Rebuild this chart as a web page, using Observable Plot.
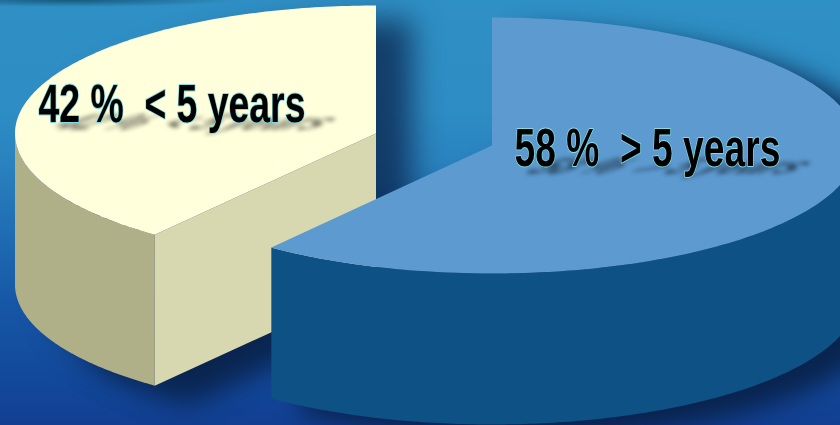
<!DOCTYPE html>
<html>
<head>
<meta charset="utf-8">
<script src="https://cdn.jsdelivr.net/npm/d3@7"></script>
<script src="https://cdn.jsdelivr.net/npm/@observablehq/plot@0.6"></script>
<style>
html,body{margin:0;padding:0;overflow:hidden;background:#1f6ab0}
#chart{width:840px;height:425px;overflow:hidden;
 background:
  radial-gradient(ellipse 170px 7px at 70px 0px, rgba(15,70,100,.75), rgba(15,70,100,0)),
  linear-gradient(180deg,#2f90c5 0px,#2e8dc4 110px,#2a83bf 160px,#1f6cb2 235px,#1758a6 300px,#134a9c 370px,#123f92 425px);}
svg{display:block}
</style>
</head>
<body>
<div id="chart"></div>
<script>
// values printed on the chart
const groups = ["< 5 years", "> 5 years"];
const shares = [42, 58];
// slice sizes as actually drawn in the picture (percent of the circle)
const drawnShares = [39.5, 60.3];

// layout of the exploded 3D pie
const depth = 151;
const centers = [{cx: 375.5, cy: 133}, {cx: 491.5, cy: 145}];
const radii = [{rx: 361, ry: 128}, {rx: 366, ry: 128}];

const rim = (i, deg, dy = 0) => {
  const a = deg * Math.PI / 180;
  return {x: centers[i].cx + radii[i].rx * Math.sin(a), y: centers[i].cy - radii[i].ry * Math.cos(a) + dy};
};
const arc = (i, from, to, dy = 0, n = 160) => d3.range(n + 1).map(k => rim(i, from + (to - from) * k / n, dy));
const centre = (i, dy = 0) => ({x: centers[i].cx, y: centers[i].cy + dy});

const yellowAngle = 360 - drawnShares[0] * 3.6;
const blueAngle = drawnShares[1] * 3.6;

const yellowTop = [centre(0), ...arc(0, yellowAngle, 360)];
const yellowCurve = [...arc(0, 270, yellowAngle), ...arc(0, yellowAngle, 270, depth)];
const yellowFlat = [rim(0, yellowAngle), centre(0), centre(0, depth), rim(0, yellowAngle, depth)];
const blueTop = [centre(1), ...arc(1, 0, blueAngle)];
const blueCurve = [...arc(1, 90, blueAngle), ...arc(1, blueAngle, 90, depth)];

const shift = (pts, dx, dy) => pts.map(p => ({x: p.x + dx, y: p.y + dy}));
const yellowShadow = shift([centre(0), ...arc(0, yellowAngle, 360), centre(0, depth), rim(0, yellowAngle, depth), ...arc(0, yellowAngle, 270, depth), ...arc(0, 270, yellowAngle)], 36, 14);
const floorShadow = shift([rim(0, yellowAngle, depth - 70), centre(0, depth - 70), centre(0, depth), rim(0, yellowAngle, depth), ...arc(0, yellowAngle, 240, depth), ...arc(0, 240, yellowAngle, depth - 70)], 30, 16);
const blueShadow = shift([centre(1), ...arc(1, 0, 90), ...arc(1, 90, blueAngle, depth), rim(1, blueAngle)], 30, 14);

const poly = (pts, fill, extra = {}) => Plot.line(pts, {x: "x", y: "y", fill, stroke: "none", curve: "linear", ...extra});

const labels = groups.map((g, i) => ({text: `${shares[i]} %  ${g}`, x: [38, 514][i], y: [121, 165][i], len: [267, 266][i]}));
const font = "Liberation Sans, Arial, sans-serif";

const plot = Plot.plot({
  width: 840,
  height: 425,
  margin: 0,
  x: {domain: [0, 840], axis: null},
  y: {domain: [425, 0], axis: null},
  style: {background: "transparent"},
  marks: [
    poly(yellowShadow, "#081f45", {fillOpacity: 0.72, imageFilter: "blur(15px)"}),
    poly(floorShadow, "#081f45", {fillOpacity: 0.6, imageFilter: "blur(14px)"}),
    poly(blueShadow, "#081f45", {fillOpacity: 0.9, imageFilter: "blur(13px)"}),
    poly(yellowCurve, "#b0b088"),
    poly(yellowFlat, "#d8d8b0"),
    poly(yellowTop, "#ffffdc"),
    poly(blueCurve, "#0e5185"),
    poly(blueTop, "#5c9ad0"),
    Plot.text(labels, {x: "x", y: "y", text: "text", textAnchor: "start", lineAnchor: "bottom",
      fill: "#000", fillOpacity: 0.55, fontSize: 54, fontWeight: 700, fontFamily: font,
      className: "lbl-shadow", imageFilter: "blur(2.2px)"}),
    Plot.text(labels, {x: "x", y: "y", text: "text", textAnchor: "start", lineAnchor: "bottom",
      fill: "#000", stroke: "#7fdde6", strokeWidth: 1.8, paintOrder: "stroke", fontSize: 54, fontWeight: 700, fontFamily: font,
      className: "lbl"})
  ]
});
document.getElementById("chart").append(plot);

// squeeze the labels to their measured widths, and lay the shadows on the pie surface
const svg = d3.select(plot);
const squeeze = (sel, after) => svg.selectAll(sel).each(function (d) {
  const t = d3.select(this);
  t.style("white-space", "pre");
  const k = labels[d].len / this.getComputedTextLength();
  t.attr("transform", `${t.attr("transform") || ""} ${after} scale(${k},1)`);
});
squeeze(".lbl text", "");
squeeze(".lbl-shadow text", "translate(6,8) matrix(1,0,-1.05,0.4,0,0)");
</script>
</body>
</html>
